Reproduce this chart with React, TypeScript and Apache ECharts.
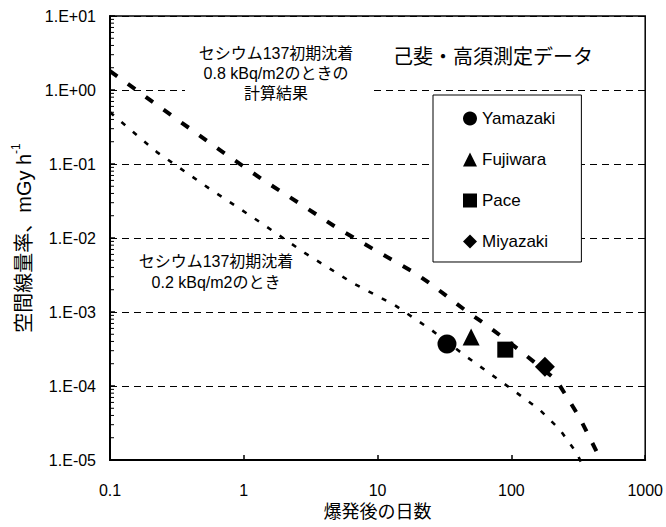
import React, { useEffect, useRef } from "react";
import * as echarts from "echarts";

const xTickLabels = ["0.1", "1", "10", "100", "1000"];
const yTickLabels = ["1.E-05", "1.E-04", "1.E-03", "1.E-02", "1.E-01", "1.E+00", "1.E+01"];

// Calculated curve, Cs-137 initial deposition 0.8 kBq/m2 (bold dashed)
const curve08Days = [0.1, 0.3, 0.75, 1.39, 2.71, 5.0, 9.5, 18.9, 25.7, 47, 65, 119, 217, 322, 454, 466];
const curve08Rate = [1.8, 0.43, 0.132, 0.061, 0.028, 0.0136, 0.0069, 0.0034, 0.0023, 0.001, 0.00067, 0.00029, 0.00012, 0.000038, 0.000011, 0.00001];

// Calculated curve, Cs-137 initial deposition 0.2 kBq/m2 (dotted)
const curve02Days = [0.1, 0.224, 0.53, 1.25, 2.85, 6.5, 13.4, 25.3, 46, 102, 162, 229, 307, 339];
const curve02Rate = [0.5, 0.145, 0.049, 0.0175, 0.0063, 0.00247, 0.00124, 0.00057, 0.00025, 0.000089, 0.000048, 0.000026, 0.0000125, 0.0000086];

// Measured data (Koi / Takasu)
const siteNames = ["Yamazaki", "Fujiwara", "Pace", "Miyazaki"];
const siteDays = [33, 50, 90, 178];
const siteRates = [3.7e-4, 4.6e-4, 3.1e-4, 1.82e-4];

// minor tick positions on the log y axis
const minorTickDecades = [1e-5, 1e-4, 1e-3, 1e-2, 1e-1, 1];
const minorTickSteps = [2, 3, 4, 5, 6, 7, 8, 9];

const FONT = '"Liberation Sans", Arial, "Noto Sans CJK JP", sans-serif';
const siteSymbols = ["circle", "triangle", "rect", "diamond"];
const siteSizes = [19, 17, 16, 20];

export default function App() {
  const ref = useRef<HTMLDivElement>(null);
  useEffect(() => {
    if (!ref.current) return;
    const chart = echarts.init(ref.current, null, { renderer: "svg" });

    const minorTicks: number[][] = [];
    minorTickDecades.forEach((d) => minorTickSteps.forEach((s) => minorTicks.push([0.1, d * s])));

    const series: any[] = [
      {
        type: "line",
        name: "0.8",
        data: curve08Days.map((d, i) => [d, curve08Rate[i]]),
        showSymbol: false,
        symbol: "none",
        lineStyle: { color: "#000", width: 4, type: [9, 13] },
        z: 3,
      },
      {
        type: "line",
        name: "0.2",
        data: curve02Days.map((d, i) => [d, curve02Rate[i]]),
        showSymbol: false,
        symbol: "none",
        clip: false,
        lineStyle: { color: "#000", width: 2.6, type: [5, 10] },
        z: 3,
      },
      ...siteNames.map((n, i) => ({
        type: "scatter",
        name: n,
        data: [[siteDays[i], siteRates[i]]],
        symbol: siteSymbols[i],
        symbolSize: siteSizes[i],
        itemStyle: { color: "#000", opacity: 1 },
        z: 5,
      })),
      {
        type: "custom",
        name: "minorTicks",
        data: minorTicks,
        silent: true,
        renderItem: (params: any, api: any) => {
          const p = api.coord([api.value(0), api.value(1)]);
          return {
            type: "line",
            shape: { x1: p[0], y1: p[1], x2: p[0] + 4, y2: p[1] },
            style: { stroke: "#000", lineWidth: 1 },
          };
        },
        z: 4,
      },
    ];

    chart.setOption({
      animation: false,
      backgroundColor: "#fff",
      textStyle: { fontFamily: FONT },
      grid: {
        left: 110,
        top: 16,
        width: 536,
        height: 444,
        show: true,
        borderColor: "#000",
        borderWidth: 1.5,
        backgroundColor: "transparent",
      },
      legend: {
        data: siteNames,
        orient: "vertical",
        left: 433,
        top: 95,
        backgroundColor: "#fff",
        borderColor: "#000",
        borderWidth: 1,
        padding: [15, 26, 12, 30],
        itemGap: 24,
        itemWidth: 14,
        itemHeight: 14,
        itemStyle: { opacity: 1, color: "#000" },
        textStyle: { fontSize: 17, color: "#000", fontFamily: FONT },
      },
      xAxis: {
        type: "log",
        logBase: 10,
        min: 0.1,
        max: 1000,
        name: "爆発後の日数",
        nameLocation: "middle",
        nameGap: 38,
        nameTextStyle: { fontSize: 18, color: "#000", fontFamily: FONT },
        axisLine: { show: true, lineStyle: { color: "#000", width: 2 } },
        axisTick: { show: true, inside: true, length: 5, lineStyle: { color: "#000", width: 1.5 } },
        axisLabel: {
          color: "#000",
          fontSize: 16,
          margin: 22,
          fontFamily: FONT,
          formatter: (v: number) => xTickLabels[Math.round(Math.log10(v)) + 1] ?? "",
        },
        splitLine: { show: false },
        minorTick: { show: false },
      },
      yAxis: {
        type: "log",
        logBase: 10,
        min: 1e-5,
        max: 10,
        name: "{a|空間線量率、mGy h}{s|-1}",
        nameLocation: "middle",
        nameGap: 76,
        nameTextStyle: {
          color: "#000",
          fontFamily: FONT,
          rich: {
            a: { fontSize: 20, color: "#000", fontFamily: FONT, lineHeight: 24, verticalAlign: "bottom" },
            s: { fontSize: 12, color: "#000", fontFamily: FONT, lineHeight: 24, verticalAlign: "top" },
          },
        },
        axisLine: { show: true, lineStyle: { color: "#000", width: 2 } },
        axisTick: { show: true, inside: true, length: 5, lineStyle: { color: "#000", width: 1.5 } },
        axisLabel: {
          color: "#000",
          fontSize: 16,
          margin: 14,
          fontFamily: FONT,
          formatter: (v: number) => yTickLabels[Math.round(Math.log10(v)) + 5] ?? "",
        },
        splitLine: { show: true, lineStyle: { color: "#000", width: 1, type: [7, 5] } },
      },
      graphic: [
        {
          type: "rect",
          shape: { x: 185, y: 40, width: 185, height: 62 },
          style: { fill: "#fff" },
          z: 1,
        },
        {
          type: "text",
          x: 276,
          y: 73,
          z: 6,
          style: {
            text: "セシウム137初期沈着\n0.8 kBq/m2のときの\n計算結果",
            fontSize: 16,
            lineHeight: 20,
            align: "center",
            verticalAlign: "middle",
            fill: "#000",
            fontFamily: FONT,
          },
        },
        {
          type: "text",
          x: 393,
          y: 57,
          z: 6,
          style: {
            text: "己斐・高須測定データ",
            fontSize: 20,
            align: "left",
            verticalAlign: "middle",
            fill: "#000",
            fontFamily: FONT,
          },
        },
        {
          type: "text",
          x: 216,
          y: 272,
          z: 6,
          style: {
            text: "セシウム137初期沈着\n0.2 kBq/m2のとき",
            fontSize: 16,
            lineHeight: 21,
            align: "center",
            verticalAlign: "middle",
            fill: "#000",
            fontFamily: FONT,
          },
        },
      ],
      series,
    });
    return () => chart.dispose();
  }, []);
  return (
    <div
      ref={ref}
      style={{ position: "absolute", left: 0, top: 0, width: 666, height: 527, background: "#fff" }}
    />
  );
}
